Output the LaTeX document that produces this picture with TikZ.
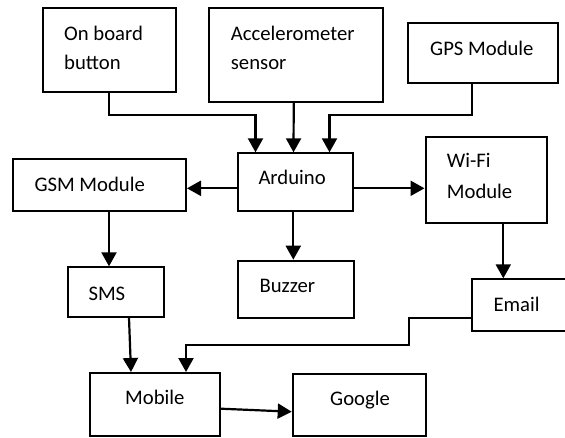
\documentclass[tikz,border=0pt]{standalone}
\usepackage{fontspec}
\setmainfont{Carlito}
\usetikzlibrary{arrows.meta}
\begin{document}
\begin{tikzpicture}[x=1pt,y=-1pt,
  box/.style={draw,line width=2pt,inner sep=0pt,rectangle},
  lbl/.style={anchor=base west,inner sep=0pt,font=\fontsize{20.7}{29}\selectfont},
  arr/.style={line width=2.2pt,-{Triangle[length=14pt,width=15pt]}}]
\clip (0,0) rectangle (565,437);
\fill[white] (0,0) rectangle (565,437);

% boxes
\node[box,minimum width=132.7pt,minimum height=83.2pt] (btn) at (109.65,49.9) {};
\node[box,minimum width=174.3pt,minimum height=94pt] (acc) at (296.15,54.5) {};
\node[box,minimum width=149.4pt,minimum height=59.4pt] (gps) at (483,53) {};
\node[box,minimum width=115.6pt,minimum height=57.4pt] (ard) at (295.5,182) {};
\node[box,minimum width=172.7pt,minimum height=51.4pt] (gsm) at (99.65,185) {};
\node[box,minimum width=121pt,minimum height=86.8pt] (wifi) at (486,179.9) {};
\node[box,minimum width=96.8pt,minimum height=49.7pt] (sms) at (115.9,292.15) {};
\node[box,minimum width=116.5pt,minimum height=57pt] (buz) at (295.75,289.2) {};
\node[box,minimum width=99.7pt,minimum height=51.7pt] (email) at (522.15,305.15) {};
\node[box,minimum width=130pt,minimum height=62.5pt] (mob) at (155,404.25) {};
\node[box,minimum width=133.3pt,minimum height=61.5pt] (goo) at (359.35,404.75) {};

% texts
\node[lbl] (btnT) at (64,40) {\begin{tabular}[t]{@{}l@{}}On board\\button\end{tabular}};
\node[lbl] (accT) at (230.7,40) {\begin{tabular}[t]{@{}l@{}}Accelerometer\\sensor\end{tabular}};
\node[lbl] (gpsT) at (430,55) {GPS Module};
\node[lbl] (ardT) at (258.3,184) {Arduino};
\node[lbl] (gsmT) at (34.3,191.7) {GSM Module};
\node[lbl] (wifiT) at (446.7,167.7) {\begin{tabular}[t]{@{}l@{}}Wi-Fi\\[1.6pt]Module\end{tabular}};
\node[lbl] (smsT) at (88.3,300) {SMS};
\node[lbl] (buzT) at (259.3,292.3) {Buzzer};
\node[lbl] (emailT) at (493.3,311) {Email};
\node[lbl] (mobT) at (125,404.7) {Mobile};
\node[lbl] (gooT) at (330,405) {Google};

% junction coordinates
\coordinate (jl) at (0,115);
\coordinate (eb) at (409,344.7);

% connectors
\draw[arr] ([xshift=-1pt]btn.south) |- ([xshift=-40pt]ard.north |- jl) -- ([xshift=-40pt]ard.north);
\draw[arr] ([xshift=-2.4pt]acc.south) -- ([xshift=-2pt]ard.north);
\draw[arr] ([xshift=-10.7pt]gps.south) |- ([xshift=34pt]ard.north |- jl) -- ([xshift=34pt]ard.north);
\draw[arr] ([yshift=-6.3pt]ard.west) -- ([yshift=-6.3pt]ard.west -| gsm.east);
\draw[arr] ([yshift=-6.3pt]ard.east) -- ([yshift=-6.3pt]ard.east -| wifi.west);
\draw[arr] ([xshift=9.35pt]gsm.south) -- ([xshift=9.35pt]gsm.south |- sms.north);
\draw[arr] ([xshift=-2.2pt]ard.south) -- ([xshift=-2.2pt]ard.south |- buz.north);
\draw[arr] ([xshift=17.3pt]wifi.south) -- ([xshift=17.3pt]wifi.south |- email.north);
\draw[arr] ([xshift=13.1pt]sms.south) -- ([xshift=-24pt]mob.north);
\draw[arr] ([yshift=-12.55pt]email.west) -| (eb) -| ([xshift=31pt]mob.north);
\draw[arr] ([yshift=-4.45pt]mob.east) -- ([yshift=-6.95pt]goo.west);
\end{tikzpicture}
\end{document}
